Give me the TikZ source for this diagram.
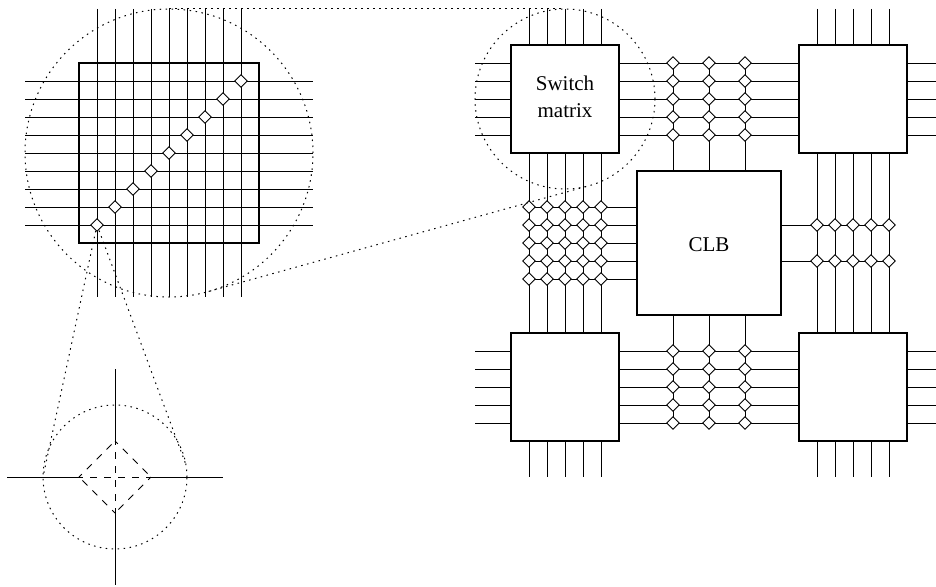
\documentclass[tikz,border=0pt]{standalone}
\usepackage{fontspec}
\setmainfont{Liberation Serif}
\usetikzlibrary{shapes.geometric}
\tikzset{
  wire/.style={line width=1pt,black,line cap=butt},
  cell/.style={draw=black,rectangle,line width=1.7pt,inner sep=0pt,outer sep=0pt},
  caption/.style={inner sep=0pt,outer sep=0pt,align=center,font=\fontsize{21}{27}\selectfont},
  xpoint/.style={draw=black,fill=white,diamond,aspect=1,minimum size=12.5pt,inner sep=0pt,outer sep=0pt,line width=0.9pt},
  ring/.style={draw=black,circle,inner sep=0pt,outer sep=0pt,line width=1pt,dash pattern=on 1.5pt off 4.5pt},
  lens/.style={black,line width=1pt,dash pattern=on 1.5pt off 4.5pt},
  dashwire/.style={black,line width=1pt,dash pattern=on 7pt off 7pt,dash phase=3pt}
}
\begin{document}
\begin{tikzpicture}[x=1pt,y=-1pt]
\useasboundingbox (0,0) rectangle (936,586);
% ---- blocks of the array
\node[cell,minimum width=108pt,minimum height=108pt] (sw) at (565,99) {};
\node[caption] (swtext) at (565,97) {Switch\\matrix};
\node[cell,minimum width=108pt,minimum height=108pt] (ne) at (853,99) {};
\node[cell,minimum width=108pt,minimum height=108pt] (sw2) at (565,387) {};
\node[cell,minimum width=108pt,minimum height=108pt] (se) at (853,387) {};
\node[cell,minimum width=144pt,minimum height=144pt] (clb) at (709,243) {};
\node[caption] (clbtext) at (709,245) {CLB};
% ---- edge points of the stubs
\coordinate (topedge) at (0,9);
\coordinate (botedge) at (0,477);
\coordinate (leftedge) at (475,0);
\coordinate (rightedge) at (936,0);
% ---- vertical wires
\foreach \x in {529,547,565,583,601}{
  \coordinate (v) at (\x,0);
  \draw[wire] (v |- topedge) -- (v |- sw.north);
  \draw[wire] (v |- sw.south) -- (v |- sw2.north);
  \draw[wire] (v |- sw2.south) -- (v |- botedge);
}
\foreach \x in {817,835,853,871,889}{
  \coordinate (v) at (\x,0);
  \draw[wire] (v |- topedge) -- (v |- ne.north);
  \draw[wire] (v |- ne.south) -- (v |- se.north);
  \draw[wire] (v |- se.south) -- (v |- botedge);
}
% ---- horizontal wires
\foreach \y in {63,81,99,117,135}{
  \coordinate (h) at (0,\y);
  \draw[wire] (leftedge |- h) -- (sw.west |- h);
  \draw[wire] (sw.east |- h) -- (ne.west |- h);
  \draw[wire] (ne.east |- h) -- (rightedge |- h);
}
\foreach \y in {351,369,387,405,423}{
  \coordinate (h) at (0,\y);
  \draw[wire] (leftedge |- h) -- (sw2.west |- h);
  \draw[wire] (sw2.east |- h) -- (se.west |- h);
  \draw[wire] (se.east |- h) -- (rightedge |- h);
}
% ---- CLB pins
\foreach \x in {673,709,745}{
  \coordinate (v) at (\x,0);
  \coordinate (t) at (\x,63);
  \coordinate (b) at (\x,423);
  \draw[wire] (t) -- (v |- clb.north);
  \draw[wire] (v |- clb.south) -- (b);
}
\foreach \y in {207,225,243,261,279}{
  \coordinate (h) at (0,\y);
  \coordinate (l) at (529,\y);
  \draw[wire] (l) -- (clb.west |- h);
}
\foreach \y in {225,261}{
  \coordinate (h) at (0,\y);
  \coordinate (r) at (889,\y);
  \draw[wire] (clb.east |- h) -- (r);
}
% ---- crosspoints of the array
\foreach \x in {673,709,745}\foreach \y in {63,81,99,117,135,351,369,387,405,423}
  \node[xpoint] (p-\x-\y) at (\x,\y) {};
\foreach \x in {529,547,565,583,601}\foreach \y in {207,225,243,261,279}
  \node[xpoint] (p-\x-\y) at (\x,\y) {};
\foreach \x in {817,835,853,871,889}\foreach \y in {225,261}
  \node[xpoint] (p-\x-\y) at (\x,\y) {};
% ---- enlarged switch matrix
\node[cell,minimum width=180pt,minimum height=180pt] (big) at (169,153) {};
\coordinate (bigtop) at (0,9);
\coordinate (bigbot) at (0,297);
\coordinate (bigleft) at (25,0);
\coordinate (bigright) at (313,0);
\foreach \x in {97,115,133,151,169,187,205,223,241}{
  \coordinate (v) at (\x,0);
  \draw[wire] (v |- bigtop) -- (v |- bigbot);
}
\foreach \y in {81,99,117,135,153,171,189,207,225}{
  \coordinate (h) at (0,\y);
  \draw[wire] (bigleft |- h) -- (bigright |- h);
}
% ---- lens rings and their tangents
\node[ring,minimum size=288pt] (lensA) at (169,153) {};
\node[ring,minimum size=180pt] (lensB) at (565,99) {};
\node[ring,minimum size=144pt] (lensC) at (115,477) {};
\coordinate (seed) at (97,225);
\draw[lens] (lensA.north) -- (lensB.north);
\draw[lens] (lensA.-74.5) -- (lensB.-74.5);
\draw[lens] (seed) -- (lensC.180);
\draw[lens] (seed) -- (lensC.10);
% ---- diagonal crosspoints
\foreach \i in {0,...,8}{
  \pgfmathtruncatemacro{\px}{97+18*\i}
  \pgfmathtruncatemacro{\py}{225-18*\i}
  \node[xpoint] (q-\i) at (\px,\py) {};
}
% ---- single crosspoint detail
\coordinate (cN) at (115,369);
\coordinate (cS) at (115,585);
\coordinate (cW) at (7,477);
\coordinate (cE) at (223,477);
\coordinate (dN) at (115,441);
\coordinate (dS) at (115,513);
\coordinate (dW) at (79,477);
\coordinate (dE) at (151,477);
\draw[wire] (cN) -- (dN);
\draw[wire] (dS) -- (cS);
\draw[wire] (cW) -- (dW);
\draw[wire] (dE) -- (cE);
\draw[dashwire] (dN) -- (dS);
\draw[dashwire] (dW) -- (dE);
\draw[dashwire] (dN) -- (dE);
\draw[dashwire] (dE) -- (dS);
\draw[dashwire] (dS) -- (dW);
\draw[dashwire] (dW) -- (dN);
\end{tikzpicture}
\end{document}
